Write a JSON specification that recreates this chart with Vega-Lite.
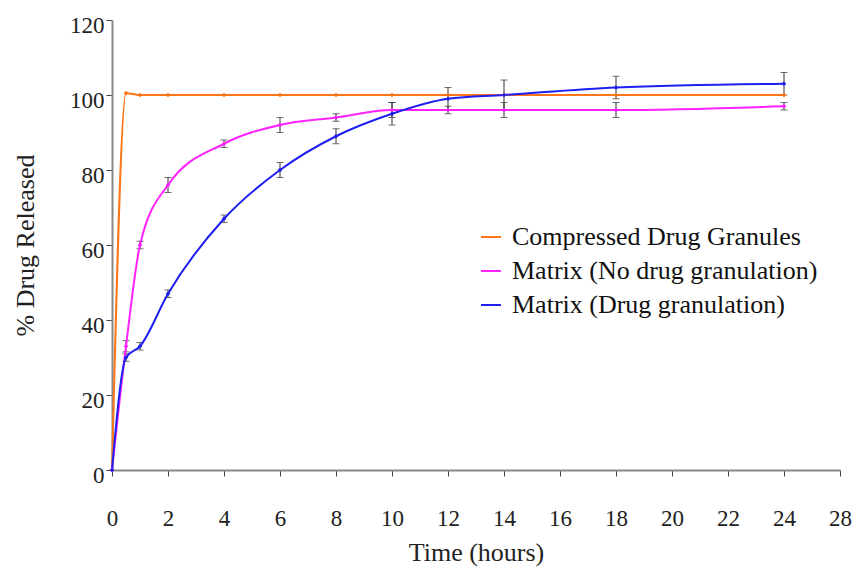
{
  "$schema": "https://vega.github.io/schema/vega-lite/v6.json",
  "width": 728,
  "height": 450,
  "autosize": {"type": "none"},
  "padding": {"left": 112, "top": 20, "right": 27, "bottom": 98},
  "background": "white",
  "config": {
    "view": {"stroke": null},
    "font": "Liberation Serif",
    "axis": {"grid": false, "labelFont": "Liberation Serif", "titleFont": "Liberation Serif", "labelColor": "#222", "titleColor": "#222", "titleFontWeight": "normal", "domainColor": "#888", "tickColor": "#444", "domainWidth": 2}
  },
  "data": {
    "values": [
      {"series": "Compressed Drug Granules", "t": 0, "v": 0},
      {"series": "Compressed Drug Granules", "t": 0.5, "v": 100.5},
      {"series": "Compressed Drug Granules", "t": 1, "v": 100},
      {"series": "Compressed Drug Granules", "t": 2, "v": 100},
      {"series": "Compressed Drug Granules", "t": 4, "v": 100},
      {"series": "Compressed Drug Granules", "t": 6, "v": 100},
      {"series": "Compressed Drug Granules", "t": 8, "v": 100},
      {"series": "Compressed Drug Granules", "t": 10, "v": 100},
      {"series": "Compressed Drug Granules", "t": 12, "v": 100},
      {"series": "Compressed Drug Granules", "t": 14, "v": 100},
      {"series": "Compressed Drug Granules", "t": 18, "v": 100},
      {"series": "Compressed Drug Granules", "t": 24, "v": 100},
      {"series": "Matrix (No drug granulation)", "t": 0, "v": 0},
      {"series": "Matrix (No drug granulation)", "t": 0.5, "v": 33, "lo": 31.5, "hi": 34.5},
      {"series": "Matrix (No drug granulation)", "t": 1, "v": 60, "lo": 59, "hi": 61},
      {"series": "Matrix (No drug granulation)", "t": 2, "v": 76, "lo": 74, "hi": 78},
      {"series": "Matrix (No drug granulation)", "t": 4, "v": 87, "lo": 86, "hi": 88},
      {"series": "Matrix (No drug granulation)", "t": 6, "v": 92, "lo": 90, "hi": 94},
      {"series": "Matrix (No drug granulation)", "t": 8, "v": 94, "lo": 93, "hi": 95},
      {"series": "Matrix (No drug granulation)", "t": 10, "v": 96, "lo": 94, "hi": 98},
      {"series": "Matrix (No drug granulation)", "t": 12, "v": 96, "lo": 95, "hi": 97},
      {"series": "Matrix (No drug granulation)", "t": 14, "v": 96, "lo": 94, "hi": 98},
      {"series": "Matrix (No drug granulation)", "t": 18, "v": 96, "lo": 94, "hi": 98},
      {"series": "Matrix (No drug granulation)", "t": 24, "v": 97, "lo": 96, "hi": 98},
      {"series": "Matrix (Drug granulation)", "t": 0, "v": 0},
      {"series": "Matrix (Drug granulation)", "t": 0.5, "v": 30, "lo": 29, "hi": 31},
      {"series": "Matrix (Drug granulation)", "t": 1, "v": 33, "lo": 32, "hi": 34},
      {"series": "Matrix (Drug granulation)", "t": 2, "v": 47, "lo": 46, "hi": 48},
      {"series": "Matrix (Drug granulation)", "t": 4, "v": 67, "lo": 66, "hi": 68},
      {"series": "Matrix (Drug granulation)", "t": 6, "v": 80, "lo": 78, "hi": 82},
      {"series": "Matrix (Drug granulation)", "t": 8, "v": 89, "lo": 87, "hi": 91},
      {"series": "Matrix (Drug granulation)", "t": 10, "v": 95, "lo": 92, "hi": 98},
      {"series": "Matrix (Drug granulation)", "t": 12, "v": 99, "lo": 96, "hi": 102},
      {"series": "Matrix (Drug granulation)", "t": 14, "v": 100, "lo": 96, "hi": 104},
      {"series": "Matrix (Drug granulation)", "t": 18, "v": 102, "lo": 99, "hi": 105},
      {"series": "Matrix (Drug granulation)", "t": 24, "v": 103, "lo": 100, "hi": 106}
    ]
  },
  "encoding": {
    "x": {"field": "t", "type": "quantitative", "scale": {"domain": [0, 26], "nice": false, "zero": false},
      "axis": {"title": "Time (hours)", "values": [0, 2, 4, 6, 8, 10, 12, 14, 16, 18, 20, 22, 24, 26], "labelExpr": "datum.value == 26 ? '28' : datum.label", "labelFontSize": 23, "titleFontSize": 26, "labelPadding": 31, "titlePadding": 9, "tickSize": 6, "labelFlush": false}}
  },
  "layer": [
    {
      "transform": [{"filter": "isValid(datum.lo)"}],
      "mark": {"type": "rule", "color": "#333", "strokeWidth": 1},
      "encoding": {
        "y": {"field": "lo", "type": "quantitative"},
        "y2": {"field": "hi"}
      }
    },
    {
      "transform": [{"filter": "isValid(datum.lo)"}],
      "mark": {"type": "tick", "color": "#333", "size": 7, "thickness": 1, "orient": "horizontal"},
      "encoding": {"y": {"field": "lo", "type": "quantitative"}}
    },
    {
      "transform": [{"filter": "isValid(datum.lo)"}],
      "mark": {"type": "tick", "color": "#333", "size": 7, "thickness": 1, "orient": "horizontal"},
      "encoding": {"y": {"field": "hi", "type": "quantitative"}}
    },
    {
      "mark": {"type": "line", "interpolate": "monotone", "strokeWidth": 2, "point": {"size": 22, "filled": true, "shape": "diamond"}},
      "encoding": {
        "y": {"field": "v", "type": "quantitative", "scale": {"domain": [0, 120], "nice": false},
          "axis": {"title": "% Drug Released", "values": [0, 20, 40, 60, 80, 100, 120], "labelFontSize": 23, "titleFontSize": 26, "tickSize": 6, "labelPadding": 2, "labelOffset": 5, "titlePadding": 31, "labelFlush": false}},
        "color": {"field": "series", "type": "nominal",
          "scale": {"domain": ["Compressed Drug Granules", "Matrix (No drug granulation)", "Matrix (Drug granulation)"], "range": ["#FF7518", "#FF22FF", "#1F1FF0"]},
          "legend": {"title": null, "orient": "none", "legendX": 366, "legendY": 204, "symbolType": "stroke", "symbolStrokeWidth": 2, "symbolSize": 400, "labelFont": "Liberation Serif", "labelFontSize": 26, "labelColor": "#111", "labelLimit": 0, "rowPadding": 8, "symbolOffset": 0, "labelOffset": 8}
        }
      }
    }
  ]
}
